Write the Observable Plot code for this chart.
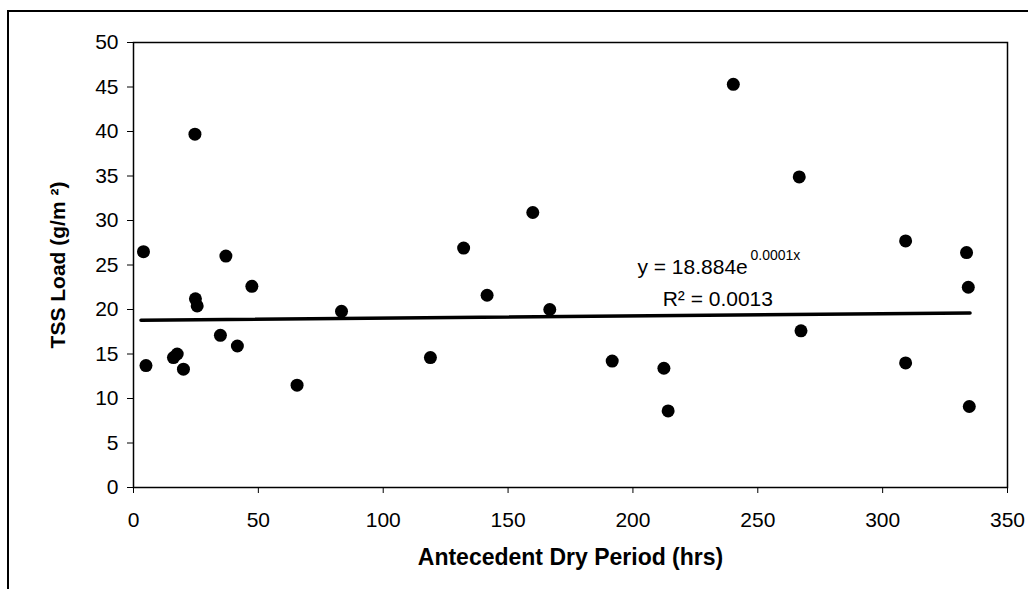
<!DOCTYPE html>
<html><head><meta charset="utf-8">
<script src="https://cdn.jsdelivr.net/npm/d3@7"></script>
<script src="https://cdn.jsdelivr.net/npm/@observablehq/plot@0.6"></script>
<style>
body{margin:0;background:#fff;}
#wrap{position:relative;width:1028px;height:589px;overflow:hidden;background:#fff;}
#border{position:absolute;left:7px;top:10px;right:-10px;bottom:-10px;border-top:2px solid #000;border-left:2px solid #000;}
#chart{position:absolute;left:0;top:0;}
</style></head><body>
<div id="wrap"><div id="border"></div><div id="chart"></div></div>
<script>
// Observations: antecedent dry period (hrs) vs TSS load (g/m²)
const dryHours = [4, 5, 16, 17.5, 20, 24.6, 24.8, 25.5, 34.8, 37, 41.6, 47.4, 65.5, 83.3, 118.9, 132.2, 141.6, 159.9, 166.7, 191.7, 212.4, 214.1, 240.2, 266.6, 267.3, 309.2, 309.2, 333.6, 334.3, 334.7];
const tssLoad  = [26.5, 13.7, 14.6, 15.0, 13.3, 39.7, 21.2, 20.4, 17.1, 26.0, 15.9, 22.6, 11.5, 19.8, 14.6, 26.9, 21.6, 30.9, 20.0, 14.2, 13.4, 8.6, 45.3, 34.9, 17.6, 27.7, 14.0, 26.4, 22.5, 9.1];
// Exponential trend line endpoints
const trendX = [3, 335];
const trendY = [18.8, 19.6];
// Tick values
const xTicks = [0, 50, 100, 150, 200, 250, 300, 350];
const yTicks = [0, 5, 10, 15, 20, 25, 30, 35, 40, 45, 50];
// Annotation texts
const eqText = "y = 18.884e";
const eqSup = "0.0001x";
const r2Text = "R² = 0.0013";

const points = dryHours.map((x, i) => ({x, y: tssLoad[i]}));
const trend = trendX.map((x, i) => ({x, y: trendY[i]}));

const chart = Plot.plot({
  width: 1028,
  height: 589,
  marginLeft: 133,
  marginRight: 21,
  marginTop: 42,
  marginBottom: 102,
  style: {fontFamily: "'Liberation Sans', Arial, sans-serif", fontSize: "21px", color: "#000", background: "transparent"},
  x: {domain: [0, 350], ticks: xTicks, tickSize: 6, tickPadding: 19, label: null},
  y: {domain: [0, 50], ticks: yTicks, tickSize: 6, tickPadding: 9, label: null},
  marks: [
    Plot.frame({stroke: "#000", strokeWidth: 1.5}),
    Plot.axisX({ticks: xTicks, tickSize: 6, tickPadding: 19, label: null, fontSize: 21}),
    Plot.axisX({ticks: [], tickSize: 0, label: "Antecedent Dry Period (hrs)", labelAnchor: "center", labelArrow: "none", labelOffset: 77, fontSize: 23, fontWeight: "bold"}),
    Plot.axisY({ticks: yTicks, tickSize: 6, tickPadding: 9, label: "TSS Load (g/m ²)", labelAnchor: "center", labelArrow: "none", labelOffset: 83, fontSize: 21}),
    Plot.line(trend, {x: "x", y: "y", stroke: "#000", strokeWidth: 3.5}),
    Plot.dot(points, {x: "x", y: "y", r: 6.5, fill: "#000"}),
    Plot.text([eqText], {x: 201.8, y: 24.7, text: d => d, textAnchor: "start", fontSize: 21}),
    Plot.text([eqSup], {x: 247.1, y: 26.1, text: d => d, textAnchor: "start", fontSize: 14}),
    Plot.text([r2Text], {x: 211.9, y: 21.2, text: d => d, textAnchor: "start", fontSize: 21})
  ]
});
// Bold axis titles
chart.querySelectorAll("g[aria-label='x-axis label'] text, g[aria-label='y-axis label'] text").forEach(t => {
  t.setAttribute("font-weight", "bold");
});
document.getElementById("chart").appendChild(chart);
</script>
</body></html>
